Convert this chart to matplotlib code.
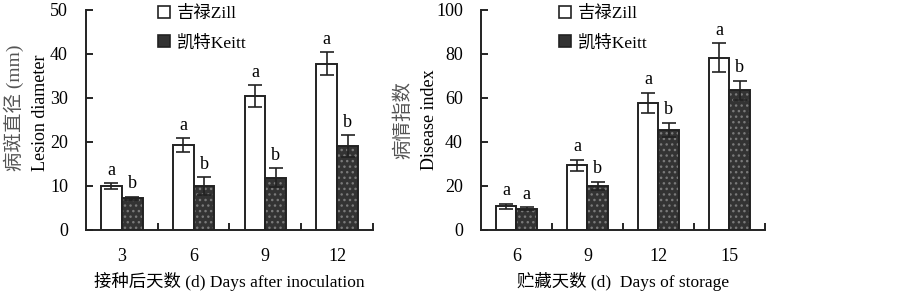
import matplotlib.pyplot as plt
import matplotlib.patches as mpatches
import numpy as np

plt.rcParams['font.family'] = ['Liberation Serif', 'Noto Sans CJK SC']
plt.rcParams['hatch.linewidth'] = 1.0

# left panel: lesion diameter
days_a = ['3', '6', '9', '12']
zill_a = [10.0, 19.3, 30.4, 37.8]
zill_a_err = [0.7, 1.5, 2.5, 2.6]
keitt_a = [7.2, 10.0, 11.9, 19.0]
keitt_a_err = [0.35, 2.0, 2.2, 2.5]
zill_a_sig = ['a', 'a', 'a', 'a']
keitt_a_sig = ['b', 'b', 'b', 'b']

# right panel: disease index
days_b = ['6', '9', '12', '15']
zill_b = [10.8, 29.4, 57.9, 78.4]
zill_b_err = [1.1, 2.5, 4.5, 6.6]
keitt_b = [9.7, 20.1, 45.6, 63.5]
keitt_b_err = [0.6, 1.8, 3.1, 4.4]
zill_b_sig = ['a', 'a', 'a', 'a']
keitt_b_sig = ['a', 'b', 'b', 'b']

W = 0.29
DARK = '#333333'
fs = 13


def panel(ax, labels, z, ze, k, ke, zs, ks, ymax, ylab_cn, ylab_en, xlab,
          x_cn, x_en, y_lab, va_lab, leg_x):
    x = np.arange(len(labels))
    ax.bar(x - W / 2, z, W, color='white', edgecolor='#222222', lw=1.4)
    # hatch with grey dots, then black outline on top
    ax.bar(x + W / 2, k, W, color=DARK, edgecolor='#7a7a7a', lw=0,
           hatch='...')
    ax.bar(x + W / 2, k, W, fill=False, edgecolor='#222222', lw=1.4)
    ax.errorbar(x - W / 2, z, yerr=ze, fmt='none', ecolor='#222222',
                elinewidth=1.2, capsize=5, capthick=1.2)
    ax.errorbar(x + W / 2, k, yerr=ke, fmt='none', ecolor='#222222',
                elinewidth=1.2, capsize=5, capthick=1.2)
    off = ymax * 0.02
    for i in range(len(x)):
        ax.text(x[i] - W / 2, z[i] + ze[i] + off, zs[i], ha='center',
                va='bottom', fontsize=fs)
        ax.text(x[i] + W / 2, k[i] + ke[i] + off, ks[i], ha='center',
                va='bottom', fontsize=fs)
    ax.set_xlim(-0.5, len(x) - 0.5)
    ax.set_ylim(0, ymax)
    ax.set_yticks(np.linspace(0, ymax, 6))
    ax.set_xticks(x)
    ax.set_xticklabels(labels)
    ax.set_xticks(np.arange(len(x)) + 0.5, minor=True)
    ax.tick_params(axis='x', which='major', length=0, pad=13, labelsize=fs)
    ax.tick_params(axis='x', which='minor', direction='in', length=5,
                   width=1.2)
    ax.tick_params(axis='y', direction='in', length=5, width=1.2,
                   labelsize=fs, pad=13)
    for s in ['top', 'right']:
        ax.spines[s].set_visible(False)
    for s in ['left', 'bottom']:
        ax.spines[s].set_linewidth(1.4)
        ax.spines[s].set_color('#222222')
    ax.text(x_cn, y_lab, ylab_cn, transform=ax.transAxes, rotation=90,
            ha='center', va=va_lab, fontsize=14, color='#555555')
    ax.text(x_en, y_lab, ylab_en, transform=ax.transAxes, rotation=90,
            ha='center', va=va_lab, fontsize=fs)
    ax.text(0.5, -0.232, xlab, transform=ax.transAxes, ha='center',
            va='center', fontsize=12.5)
    handles = [mpatches.Patch(facecolor='white', edgecolor='#222222',
                              lw=1.2, label='吉禄Zill'),
               mpatches.Patch(facecolor=DARK, edgecolor='#222222', lw=1.2,
                              label='凯特Keitt')]
    ax.legend(handles=handles, loc='upper left',
              bbox_to_anchor=(leg_x, 1.09), frameon=False, fontsize=12.5,
              handlelength=0.7, handleheight=0.7, handletextpad=0.4,
              labelspacing=0.75)


fig = plt.figure(figsize=(9.03, 2.91), dpi=100)
ax1 = fig.add_axes([86 / 903, 61 / 291, 287 / 903, 220 / 291])
ax2 = fig.add_axes([481 / 903, 61 / 291, 284 / 903, 220 / 291])

panel(ax1, days_a, zill_a, zill_a_err, keitt_a, keitt_a_err, zill_a_sig,
      keitt_a_sig, 50, '病斑直径 (mm)', 'Lesion diameter',
      '接种后天数 (d) Days after inoculation', -0.252, -0.16,
      0.27, 'bottom', 0.195)
panel(ax2, days_b, zill_b, zill_b_err, keitt_b, keitt_b_err, zill_b_sig,
      keitt_b_sig, 100, '病情指数', 'Disease index',
      '贮藏天数 (d)  Days of storage', -0.275, -0.18,
      0.5, 'center', 0.22)

fig.savefig('out.png', dpi=100)
